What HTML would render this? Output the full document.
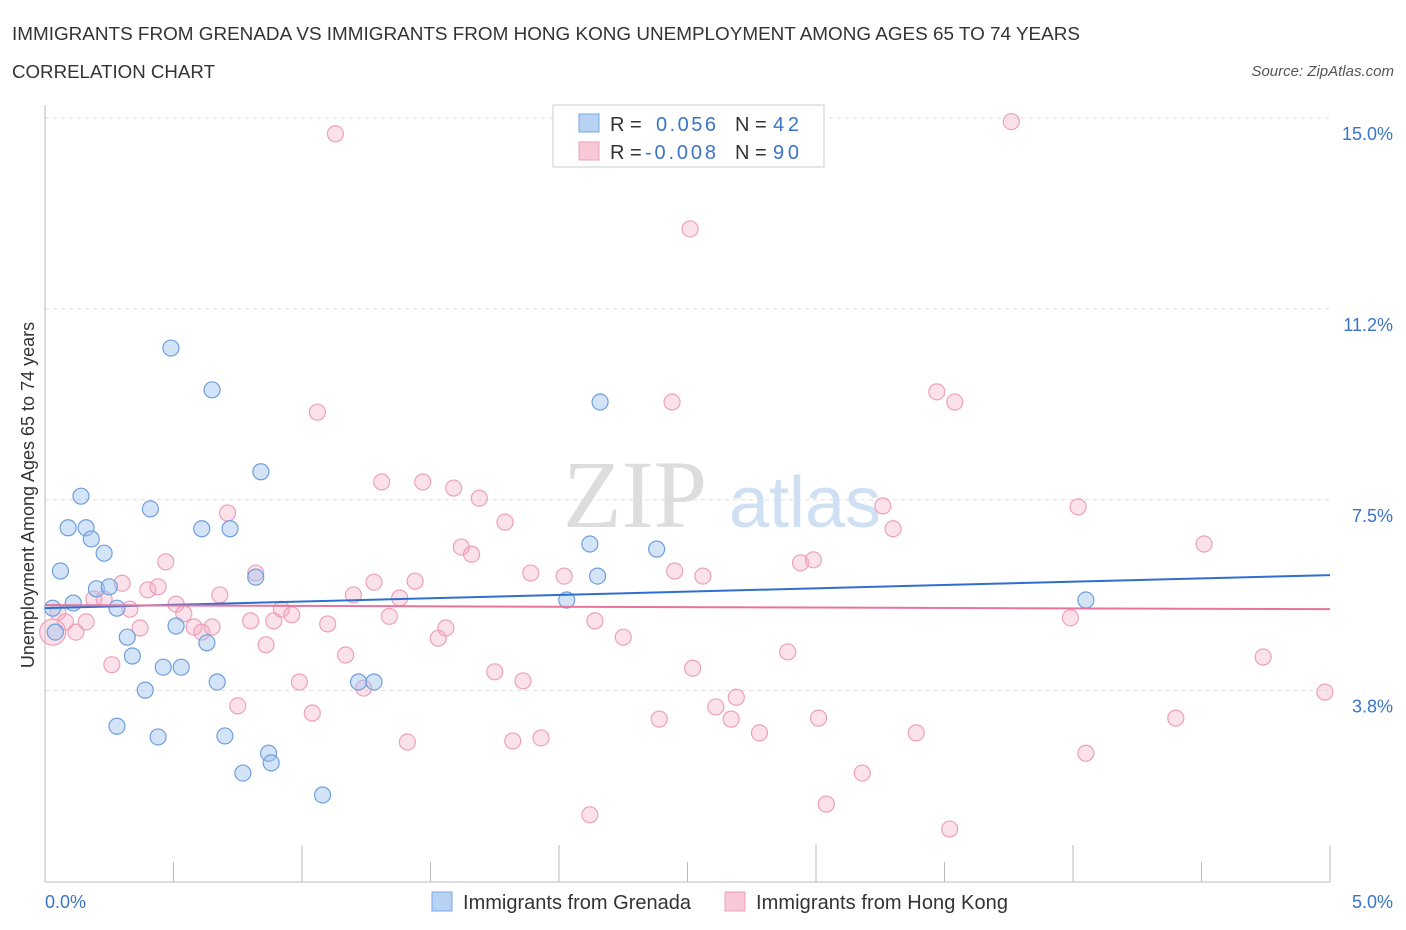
<!DOCTYPE html>
<html><head><meta charset="utf-8">
<style>
body{margin:0;background:#fff;font-family:"Liberation Sans",sans-serif;}
#wrap{position:relative;width:1406px;height:930px;overflow:hidden;}
</style></head>
<body>
<div id="wrap">
<svg id="chart" width="1406" height="930">
<text x="12" y="40" font-size="18" fill="#333" textLength="1068" lengthAdjust="spacingAndGlyphs">IMMIGRANTS FROM GRENADA VS IMMIGRANTS FROM HONG KONG UNEMPLOYMENT AMONG AGES 65 TO 74 YEARS</text>
<text x="12" y="78" font-size="18" fill="#333" textLength="203" lengthAdjust="spacingAndGlyphs">CORRELATION CHART</text>
<text x="1394" y="76" font-size="15" fill="#555" font-style="italic" text-anchor="end">Source: ZipAtlas.com</text>
<text x="635" y="527" font-size="96" fill="#ddd" font-family="Liberation Serif,serif" text-anchor="middle">ZIP</text>
<text x="805" y="527" font-size="72" fill="#cfe0f3" text-anchor="middle">atlas</text>
<text transform="translate(34,495) rotate(-90)" font-size="18" fill="#333" text-anchor="middle">Unemployment Among Ages 65 to 74 years</text>
<g id="grid"></g><g id="pts"></g><g id="trend"></g>
<g>
<rect x="553" y="105" width="271" height="62" fill="#fff" stroke="#ccc"/>
<rect x="579" y="114" width="20" height="18" fill="#b8d2f4" stroke="#7aa8e0"/>
<rect x="579" y="142" width="20" height="18" fill="#f9c8d6" stroke="#eea0bb"/>
<text x="610" y="131" font-size="20" fill="#333">R = </text><text x="656" y="131" font-size="20" fill="#3a74c8" textLength="60">0.056</text>
<text x="735" y="131" font-size="20" fill="#333">N = </text><text x="773" y="131" font-size="20" fill="#3a74c8" textLength="26">42</text>
<text x="610" y="159" font-size="20" fill="#333">R = </text><text x="645" y="159" font-size="20" fill="#3a74c8" textLength="71">-0.008</text>
<text x="735" y="159" font-size="20" fill="#333">N = </text><text x="773" y="159" font-size="20" fill="#3a74c8" textLength="26">90</text>
</g>
<g>
<rect x="432" y="892" width="20" height="19" fill="#b8d2f4" stroke="#7aa8e0"/>
<text x="463" y="909" font-size="20" fill="#333" textLength="228">Immigrants from Grenada</text>
<rect x="725" y="892" width="20" height="19" fill="#f9c8d6" stroke="#eea0bb"/>
<text x="756" y="909" font-size="20" fill="#333" textLength="252">Immigrants from Hong Kong</text>
</g>
</svg>
</div>
<script>
const yTicks=[15,11.25,7.5,3.75];
const yTickLabels=["15.0%","11.2%","7.5%","3.8%"];
const xTickLabels=["0.0%","5.0%"];
const blueX=[.03,.04,.06,.09,.11,.14,.16,.18,.20,.23,.25,.28,.28,.32,.34,.39,.41,.44,.46,.49,.51,.53,.63,.61,.65,.67,.70,.72,.77,.82,.84,.87,.88,1.08,1.22,1.28,2.03,2.12,2.15,2.16,2.38,4.05];
const blueY=[5.37,4.90,6.10,6.95,5.47,7.57,6.95,6.73,5.75,6.45,5.79,5.37,3.05,4.80,4.43,3.76,7.32,2.84,4.21,10.48,5.02,4.21,4.69,6.93,9.66,3.92,2.86,6.93,2.13,5.98,8.05,2.52,2.33,1.70,3.92,3.92,5.53,6.63,6.00,9.42,6.53,5.53];
const pinkX=[.03,.05,.08,.12,.16,.19,.23,.26,.30,.33,.37,.40,.44,.47,.51,.54,.58,.61,.65,.68,.71,.75,.80,.82,.86,.89,.92,.96,.99,1.04,1.06,1.10,1.13,1.17,1.20,1.24,1.28,1.31,1.34,1.38,1.41,1.44,1.47,1.53,1.56,1.59,1.62,1.66,1.69,1.75,1.79,1.82,1.86,1.89,1.93,2.02,2.12,2.14,2.25,2.39,2.44,2.45,2.51,2.52,2.56,2.61,2.67,2.69,2.78,2.89,2.94,2.99,3.01,3.04,3.18,3.26,3.30,3.39,3.47,3.52,3.54,3.76,3.99,4.02,4.05,4.40,4.51,4.74,4.98];
const pinkY=[4.90,5.29,5.10,4.90,5.10,5.55,5.55,4.26,5.86,5.35,4.98,5.73,5.79,6.28,5.45,5.26,5.00,4.90,5.00,5.63,7.24,3.45,5.12,6.06,4.65,5.12,5.35,5.24,3.92,3.31,9.22,5.06,14.69,4.45,5.63,3.80,5.88,7.85,5.21,5.57,2.74,5.90,7.85,4.78,4.98,7.73,6.57,6.43,7.53,4.12,7.06,2.76,3.94,6.06,2.82,6.00,1.31,5.12,4.80,3.19,9.42,6.10,12.82,4.19,6.00,3.43,3.19,3.62,2.92,4.51,6.26,6.32,3.21,1.52,2.13,7.38,6.93,2.92,9.62,1.03,9.42,14.93,5.18,7.36,2.52,3.21,6.63,4.41,3.72];
const blueTrend=[5.37,6.02];
const pinkTrend=[5.43,5.35];
const X=v=>45+v/5*1285, Y=v=>881.5-v*50.9;
const NS="http://www.w3.org/2000/svg";
function mk(tag,attrs,parent){const e=document.createElementNS(NS,tag);for(const k in attrs)e.setAttribute(k,attrs[k]);parent.appendChild(e);return e;}
const grid=document.getElementById('grid');
yTicks.forEach((t,i)=>{
 const l=mk('line',{x1:45,x2:1330,y1:Y(t),y2:Y(t),stroke:'#ddd','stroke-dasharray':'4,4'},grid);
 
 
 const tx=mk('text',{x:1393,y:Y(t)+22,'font-size':18,fill:'#3a74c8','text-anchor':'end'},grid);
 tx.textContent=yTickLabels[i];
 
 
});
const ax=mk('line',{x1:45,x2:1330,y1:882,y2:882,stroke:'#bbb'},grid);


const ay=mk('line',{x1:45,x2:45,y1:105,y2:882,stroke:'#bbb'},grid);


for(let i=0;i<=10;i++){
 const v=i*0.5;
 const t=mk('line',{x1:X(v),x2:X(v),y1:i%2?862:845,y2:882,stroke:'#bbb'},grid);
 
 
}
[[0,'start',45],[5,'end',1393]].forEach((a,i)=>{
 const tx=mk('text',{x:a[2],y:908,'font-size':18,fill:'#3a74c8','text-anchor':a[1]},grid);
 tx.textContent=xTickLabels[i];
 
 
});
const pts=document.getElementById('pts');
pinkX.forEach((x,i)=>{
 const c=mk('circle',{cx:X(x),cy:Y(pinkY[i]),r:i==0?13:8,fill:'rgba(244,170,195,0.35)',stroke:'#eea0bb','stroke-width':1.2},pts);
 
 
});
blueX.forEach((x,i)=>{
 const c=mk('circle',{cx:X(x),cy:Y(blueY[i]),r:8,fill:'rgba(160,196,240,0.45)',stroke:'#6f9fdc','stroke-width':1.2},pts);
 
 
});
const tr=document.getElementById('trend');
const b=mk('line',{x1:X(0),x2:X(5),y1:Y(blueTrend[0]),y2:Y(blueTrend[1]),stroke:'#2f6fd0','stroke-width':2},tr);


const p=mk('line',{x1:X(0),x2:X(5),y1:Y(pinkTrend[0]),y2:Y(pinkTrend[1]),stroke:'#e8749a','stroke-width':2},tr);


</script>
</body></html>
